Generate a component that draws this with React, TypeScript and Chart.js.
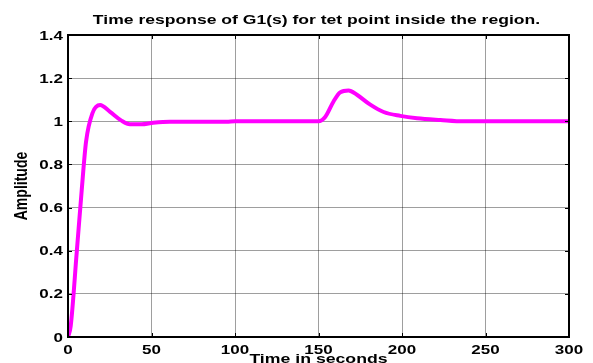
import React, { useEffect, useRef } from "react";
import { Chart, registerables } from "chart.js";

Chart.register(...registerables);

const titleText = "Time response of G1(s) for tet point inside the region.";
const xTitle = "Time in seconds";
const yTitle = "Amplitude";

const xTicks = [0, 50, 100, 150, 200, 250, 300];
const yTicks = [0, 0.2, 0.4, 0.6, 0.8, 1, 1.2, 1.4];
const yTickLabels = ["0", "0.2", "0.4", "0.6", "0.8", "1", "1.2", "1.4"];

const time = [0, 1.6, 5.2, 8.2, 10.8, 14.6, 19.2, 25, 32, 37, 44, 51, 61, 80, 95, 100, 150, 154, 159, 163, 168, 173, 181, 189, 199, 209, 223, 237, 260, 300];
const amplitude = [0, 0.05, 0.39, 0.68, 0.905, 1.037, 1.075, 1.045, 1.003, 0.986, 0.986, 0.993, 0.998, 0.998, 0.998, 1.0, 1.0, 1.02, 1.092, 1.134, 1.143, 1.123, 1.077, 1.043, 1.025, 1.014, 1.006, 1.0, 1.0, 1.0];

const FONT = "'Liberation Sans', Arial, sans-serif";
const SX = 1.36;

function drawStretched(ctx: CanvasRenderingContext2D, text: string, x: number, y: number, size: number, align: CanvasTextAlign, sx: number) {
  ctx.save();
  ctx.translate(x, y);
  ctx.scale(sx, 1);
  ctx.font = `bold ${size}px ${FONT}`;
  ctx.textAlign = align;
  ctx.textBaseline = "alphabetic";
  ctx.fillStyle = "#000";
  ctx.fillText(text, 0, 0);
  ctx.restore();
}

const decorPlugin = {
  id: "decor",
  afterDraw(chart: any) {
    const ctx: CanvasRenderingContext2D = chart.ctx;
    const { left, right, top, bottom } = chart.chartArea;
    const xs = chart.scales.x;
    const ys = chart.scales.y;
    ctx.save();
    ctx.strokeStyle = "#000";
    ctx.lineWidth = 1;
    xTicks.forEach((v) => {
      const px = Math.round(xs.getPixelForValue(v)) + 0.5;
      ctx.beginPath();
      ctx.moveTo(px, bottom);
      ctx.lineTo(px, bottom - 4);
      ctx.moveTo(px, top);
      ctx.lineTo(px, top + 4);
      ctx.stroke();
    });
    yTicks.forEach((v) => {
      const py = Math.round(ys.getPixelForValue(v)) + 0.5;
      ctx.beginPath();
      ctx.moveTo(left, py);
      ctx.lineTo(left + 4, py);
      ctx.moveTo(right, py);
      ctx.lineTo(right - 4, py);
      ctx.stroke();
    });
    ctx.lineWidth = 2;
    ctx.strokeRect(left, top, right - left, bottom - top);
    ctx.restore();

    xTicks.forEach((v) => {
      drawStretched(ctx, String(v), xs.getPixelForValue(v), 353.5, 12.5, "center", SX);
    });
    yTicks.forEach((v, i) => {
      drawStretched(ctx, yTickLabels[i], left - 5, ys.getPixelForValue(v) + 4.5, 12.5, "right", SX);
    });

    drawStretched(ctx, titleText, 316.5, 23.5, 13, "center", 1.35);
    drawStretched(ctx, xTitle, (left + right) / 2, 362.5, 13, "center", SX);
    ctx.save();
    ctx.translate(22, (top + bottom) / 2);
    ctx.rotate(-Math.PI / 2);
    ctx.scale(1.08, SX);
    ctx.font = `bold 13px ${FONT}`;
    ctx.textAlign = "center";
    ctx.textBaseline = "middle";
    ctx.fillStyle = "#000";
    ctx.fillText(yTitle, 0, 0);
    ctx.restore();
  },
};

export default function App() {
  const ref = useRef<HTMLCanvasElement | null>(null);
  useEffect(() => {
    if (!ref.current) return;
    const chart = new Chart(ref.current, {
      type: "line",
      data: {
        datasets: [
          {
            data: time.map((t, i) => ({ x: t, y: amplitude[i] })),
            borderColor: "#ff00ff",
            borderWidth: 4,
            pointRadius: 0,
            cubicInterpolationMode: "monotone",
            fill: false,
          },
        ],
      },
      options: {
        responsive: false,
        animation: false,
        devicePixelRatio: 1,
        layout: { padding: { left: 0, right: 24, top: 35, bottom: 0 } },
        plugins: { legend: { display: false }, tooltip: { enabled: false }, title: { display: false } },
        scales: {
          x: {
            type: "linear",
            min: 0,
            max: 300,
            ticks: { display: false, stepSize: 50 },
            grid: { color: "rgba(0,0,0,0.38)", lineWidth: 1, drawTicks: false },
            border: { display: false },
            afterFit: (s: any) => { s.height = 26; },
          },
          y: {
            min: 0,
            max: 1.4,
            ticks: { display: false, stepSize: 0.2 },
            grid: { color: "rgba(0,0,0,0.38)", lineWidth: 1, drawTicks: false },
            border: { display: false },
            afterFit: (s: any) => { s.width = 68; },
          },
        },
      },
      plugins: [decorPlugin],
    } as any);
    return () => chart.destroy();
  }, []);
  return (
    <div style={{ position: "fixed", left: 0, top: 0, width: 593, height: 363, background: "#fff" }}>
      <canvas ref={ref} width={593} height={363} style={{ width: 593, height: 363 }} />
    </div>
  );
}
